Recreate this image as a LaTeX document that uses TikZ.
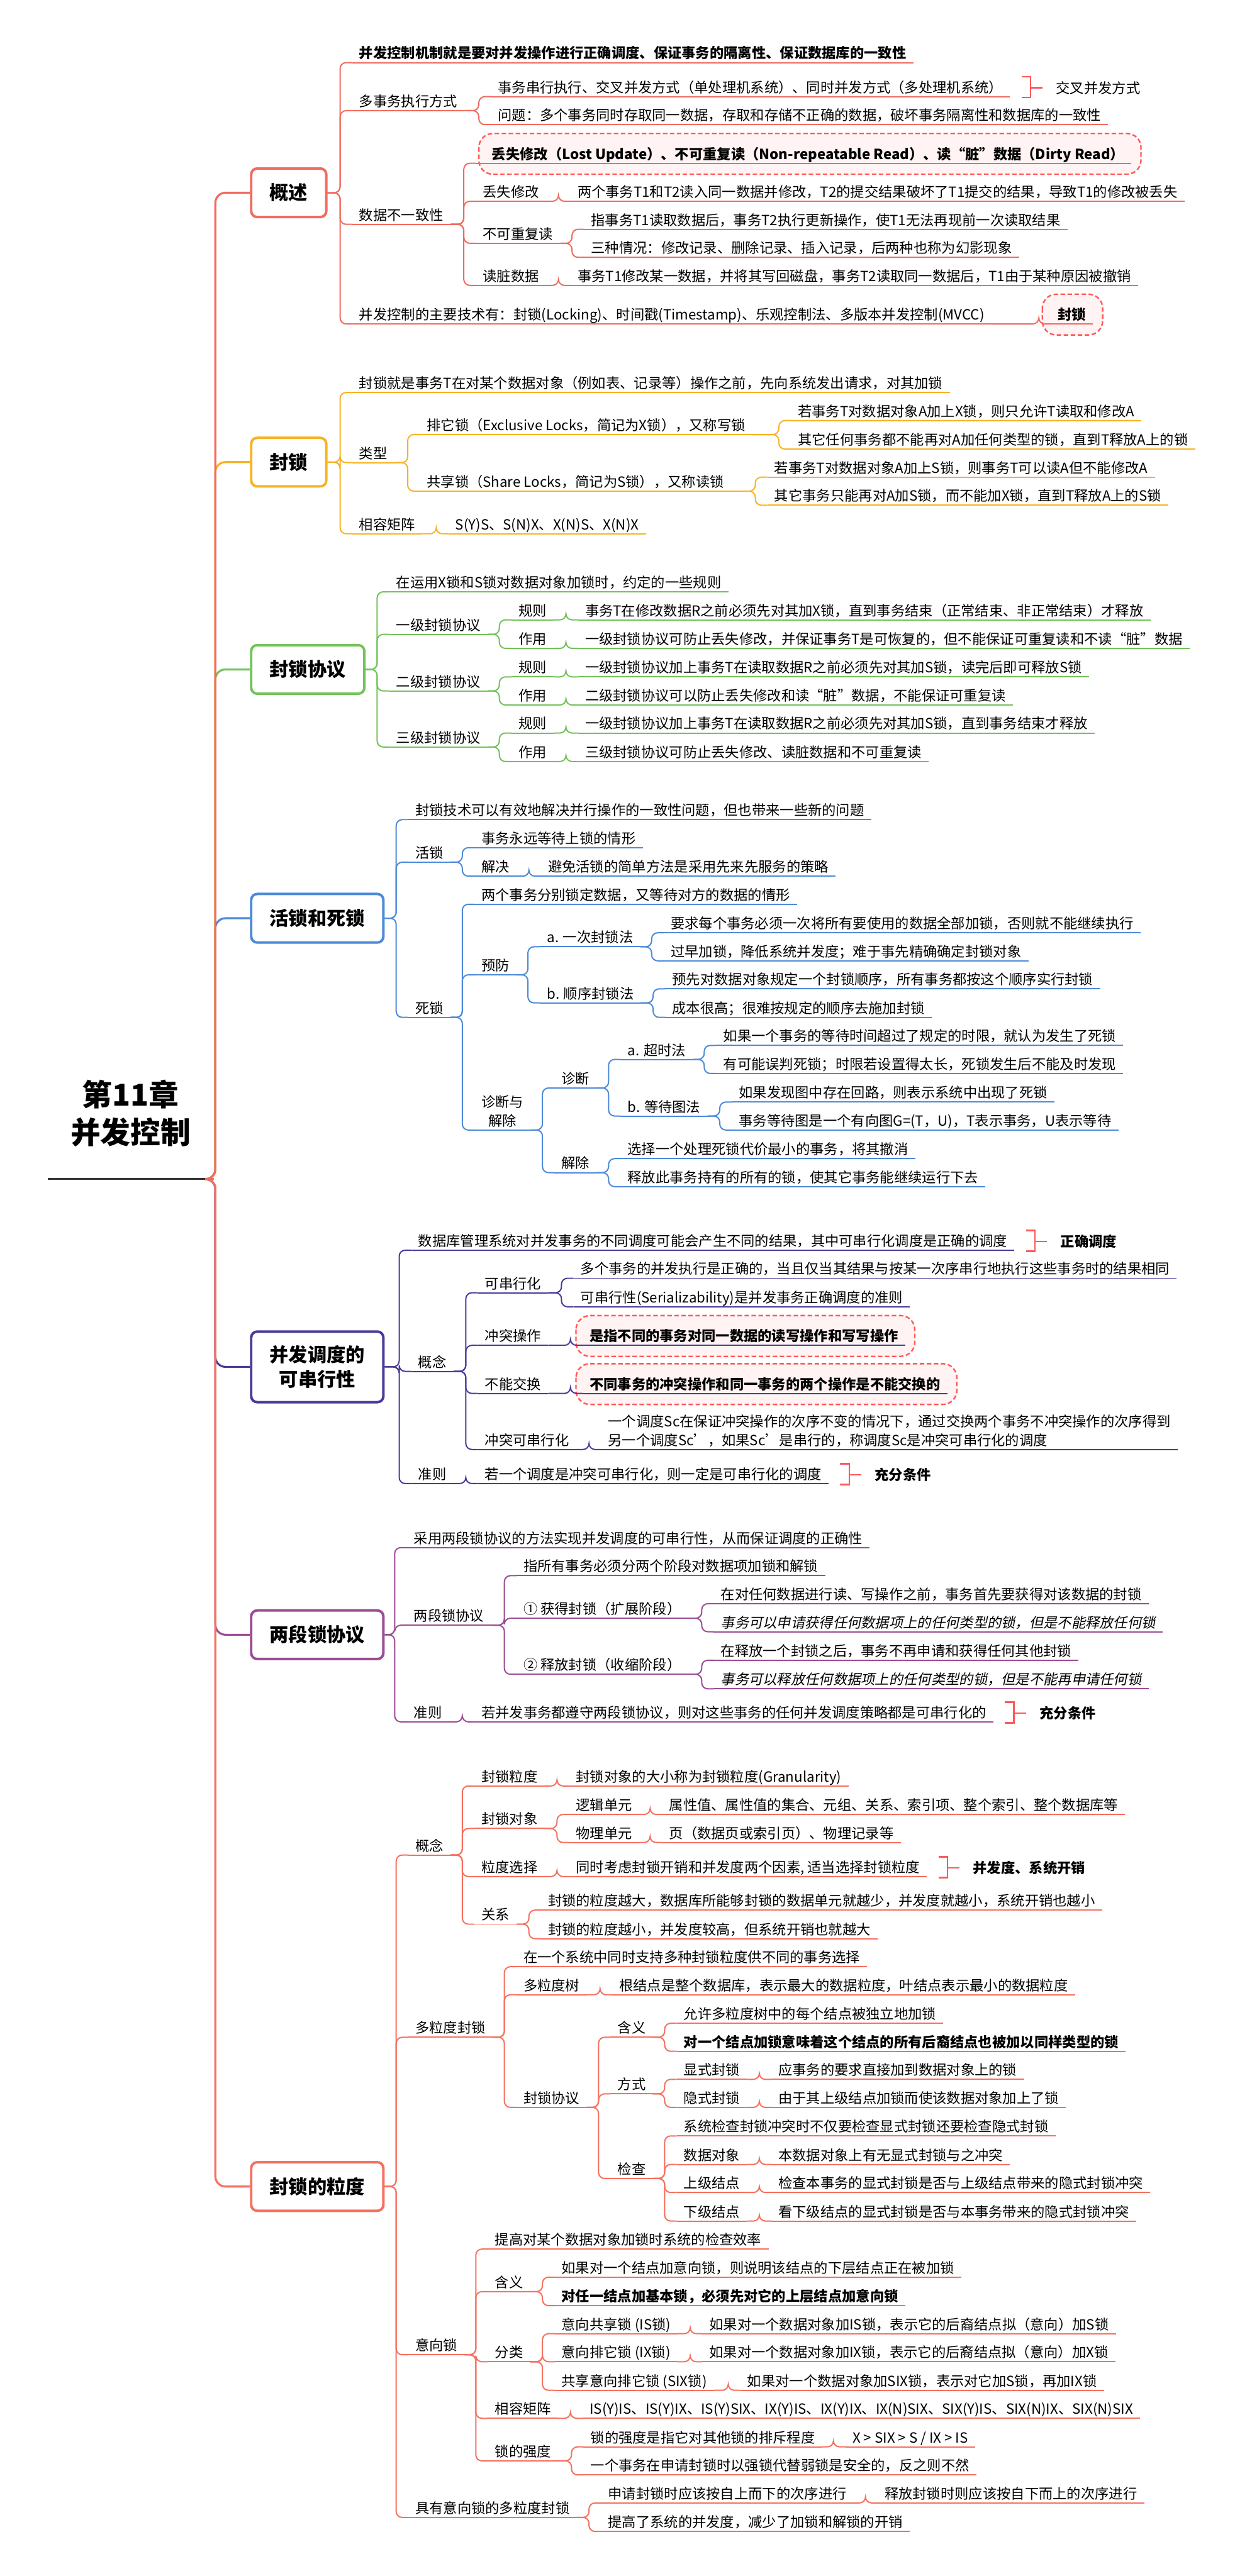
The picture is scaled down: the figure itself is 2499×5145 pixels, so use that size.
\documentclass[tikz,border=0pt]{standalone}
\usepackage{fontspec}
\setmainfont{Noto Sans CJK SC}[AutoFakeSlant=0.2]
\usetikzlibrary{backgrounds}
\newcommand\fs{\fontsize{28}{37}\selectfont}
\definecolor{c1}{HTML}{F26B5F}
\definecolor{c2}{HTML}{F8B322}
\definecolor{c3}{HTML}{73C25A}
\definecolor{c4}{HTML}{4D8AD9}
\definecolor{c5}{HTML}{4A3B9A}
\definecolor{c6}{HTML}{9B4C95}
\definecolor{c7}{HTML}{F6705F}
\definecolor{cr}{HTML}{FF5959}
\definecolor{cf}{HTML}{FFF3F3}
\colorlet{bc}{c1}
\newcommand\tn[5][]{\node[tp,#1] (#2) at ({#3-14},#4) {#5};}
\newcommand\cn[2]{\draw[cl] (#1.south east) -| ([xshift=-24pt]#2.south west) -- (#2.south west);}
\newcommand\bcn[2]{\draw[cl] (#1.east) -| ([xshift=-24pt]#2.south west) -- (#2.south west);}
\newcommand\summ[4][]{%
  \draw[brk] ([shift={(23,-4)}]#2.north east) -- ([shift={(41,-4)}]#2.north east) -- ([shift={(41,2)}]#2.south east) -- ([shift={(23,2)}]#2.south east);
  \draw[brk] ([xshift=41pt]#2.east) -- ([xshift=65pt]#2.east);
  \node[sl,#1] (#3) at ([xshift=92pt]#2.east) {#4};}
\newcommand\callout[2][-13]{\begin{scope}[on background layer]\draw[co] ([shift={(#1,-24)}]#2.north west) rectangle ([shift={(19,22)}]#2.south east);\end{scope}}
\begin{document}
\begin{tikzpicture}[x=1pt,y=-1pt,
  ul/.style={draw=bc, line width=2.5pt},
  tpb/.style={anchor=south west, inner xsep=14pt, inner ysep=0pt, text depth=8pt, font=\fs,
     append after command={(\tikzlastnode.south west) edge[ul] (\tikzlastnode.south east)}},
  tp/.style={tpb, text height=27pt},
  cl/.style={draw=bc, line width=2.5pt, rounded corners=12pt},
  mcl/.style={line width=4pt, rounded corners=20pt},
  box/.style={draw=bc, line width=5pt, rounded corners=12pt, fill=white, anchor=west,
     minimum height=97pt, inner xsep=37pt, font=\bfseries\fontsize{38}{50}\selectfont, align=center},
  brk/.style={draw=cr, line width=3pt},
  sl/.style={anchor=west, inner sep=0pt, font=\fs},
  co/.style={draw=cr, dashed, dash pattern=on 9pt off 5pt, line width=3pt, fill=cf, rounded corners=28pt},
  rootn/.style={anchor=south west, minimum width=331pt, inner ysep=14pt, text depth=56pt, align=center,
     font=\bfseries\fontsize{60}{76}\selectfont}]
\useasboundingbox (0,0) rectangle (2499,5145);
\begin{scope}[on background layer]
\fill[white] (0,0) rectangle (2499,5145);
\end{scope}

% ---------------- root
\node[rootn] (root) at (95,2355) {第11章\\并发控制};
\draw[line width=4pt, draw=black!80] (root.south west) -- (root.south east);

% ---------------- boxes
\begin{scope}\colorlet{bc}{c1}\node[box] (b1) at (499,385) {概述};\end{scope}
\begin{scope}\colorlet{bc}{c2}\node[box] (b2) at (499,923) {封锁};\end{scope}
\begin{scope}\colorlet{bc}{c3}\node[box] (b3) at (499,1337) {封锁协议};\end{scope}
\begin{scope}\colorlet{bc}{c4}\node[box] (b4) at (499,1834) {活锁和死锁};\end{scope}
\begin{scope}\colorlet{bc}{c5}\node[box, minimum height=141pt] (b5) at (499,2730) {并发调度的\\可串行性};\end{scope}
\begin{scope}\colorlet{bc}{c6}\node[box] (b6) at (499,3265) {两段锁协议};\end{scope}
\begin{scope}\colorlet{bc}{c7}\node[box] (b7) at (499,4367) {封锁的粒度};\end{scope}

% root connectors (outermost drawn last)
\draw[mcl, draw=c4] (root.south east) -| ([xshift=-69pt]b4.west) -- (b4.west);
\draw[mcl, draw=c5] (root.south east) -| ([xshift=-69pt]b5.west) -- (b5.west);
\draw[mcl, draw=c3] (root.south east) -| ([xshift=-69pt]b3.west) -- (b3.west);
\draw[mcl, draw=c6] (root.south east) -| ([xshift=-69pt]b6.west) -- (b6.west);
\draw[mcl, draw=c2] (root.south east) -| ([xshift=-69pt]b2.west) -- (b2.west);
\draw[mcl, draw=c7] (root.south east) -| ([xshift=-69pt]b7.west) -- (b7.west);
\draw[mcl, draw=c1] (root.south east) -| ([xshift=-69pt]b1.west) -- (b1.west);

% ---------------- section 1
\begin{scope}
\colorlet{bc}{c1}
\tn[font=\fs\bfseries]{n11}{717}{125}{并发控制机制就是要对并发操作进行正确调度、保证事务的隔离性、保证数据库的一致性}
\tn{n12}{717}{221}{多事务执行方式}
\tn{n121}{994}{193}{事务串行执行、交叉并发方式（单处理机系统）、同时并发方式（多处理机系统）}
\tn{n122}{994}{249}{问题：多个事务同时存取同一数据，存取和存储不正确的数据，破坏事务隔离性和数据库的一致性}
\tn{n13}{717}{448}{数据不一致性}
\tn[font=\fs\bfseries]{n131}{964}{326}{\hspace*{18pt}丢失修改（Lost Update）、不可重复读（Non-repeatable Read）、读“脏”数据（Dirty Read）}
\tn{n132}{964}{402}{丢失修改}
\tn{n1321}{1153}{402}{两个事务T1和T2读入同一数据并修改，T2的提交结果破坏了T1提交的结果，导致T1的修改被丢失}
\tn{n133}{964}{486}{不可重复读}
\tn{n1331}{1180}{458}{指事务T1读取数据后，事务T2执行更新操作，使T1无法再现前一次读取结果}
\tn{n1332}{1180}{514}{三种情况：修改记录、删除记录、插入记录，后两种也称为幻影现象}
\tn{n134}{964}{570}{读脏数据}
\tn{n1341}{1153}{570}{事务T1修改某一数据，并将其写回磁盘，事务T2读取同一数据后，T1由于某种原因被撤销}
\tn{n14}{717}{647}{并发控制的主要技术有：封锁(Locking)、时间戳(Timestamp)、乐观控制法、多版本并发控制(MVCC)}
\tn[font=\fs\bfseries]{n141}{2112}{647}{封锁}
\bcn{b1}{n11}\bcn{b1}{n12}\bcn{b1}{n13}\bcn{b1}{n14}
\cn{n12}{n121}\cn{n12}{n122}
\cn{n13}{n131}\cn{n13}{n132}\cn{n13}{n133}\cn{n13}{n134}
\cn{n132}{n1321}\cn{n133}{n1331}\cn{n133}{n1332}\cn{n134}{n1341}
\cn{n14}{n141}
\summ{n121}{s1}{交叉并发方式}
\callout[6]{n131}
\callout[-17]{n141}
\end{scope}

% ---------------- section 2
\begin{scope}
\colorlet{bc}{c2}
\tn{n21}{717}{784}{封锁就是事务T在对某个数据对象（例如表、记录等）操作之前，先向系统发出请求，对其加锁}
\tn{n22}{717}{924}{类型}
\tn{n221}{852}{868}{排它锁（Exclusive Locks，简记为X锁），又称写锁}
\tn{n2211}{1593}{840}{若事务T对数据对象A加上X锁，则只允许T读取和修改A}
\tn{n2212}{1593}{897}{其它任何事务都不能再对A加任何类型的锁，直到T释放A上的锁}
\tn{n222}{852}{981}{共享锁（Share Locks，简记为S锁），又称读锁}
\tn{n2221}{1546}{953}{若事务T对数据对象A加上S锁，则事务T可以读A但不能修改A}
\tn{n2222}{1546}{1009}{其它事务只能再对A加S锁，而不能加X锁，直到T释放A上的S锁}
\tn{n23}{717}{1066}{相容矩阵}
\tn{n231}{909}{1066}{S(Y)S、S(N)X、X(N)S、X(N)X}
\bcn{b2}{n21}\bcn{b2}{n22}\bcn{b2}{n23}
\cn{n22}{n221}\cn{n22}{n222}
\cn{n221}{n2211}\cn{n221}{n2212}\cn{n222}{n2221}\cn{n222}{n2222}
\cn{n23}{n231}
\end{scope}

% ---------------- section 3
\begin{scope}
\colorlet{bc}{c3}
\tn{n31}{791}{1182}{在运用X锁和S锁对数据对象加锁时，约定的一些规则}
\tn{n32}{791}{1267}{一级封锁协议}
\tn{n321}{1035}{1238}{规则}
\tn{n3211}{1168}{1238}{事务T在修改数据R之前必须先对其加X锁，直到事务结束（正常结束、非正常结束）才释放}
\tn{n322}{1035}{1295}{作用}
\tn{n3221}{1168}{1295}{一级封锁协议可防止丢失修改，并保证事务T是可恢复的，但不能保证可重复读和不读“脏”数据}
\tn{n33}{791}{1380}{二级封锁协议}
\tn{n331}{1035}{1352}{规则}
\tn{n3311}{1168}{1352}{一级封锁协议加上事务T在读取数据R之前必须先对其加S锁，读完后即可释放S锁}
\tn{n332}{1035}{1408}{作用}
\tn{n3321}{1168}{1408}{二级封锁协议可以防止丢失修改和读“脏”数据，不能保证可重复读}
\tn{n34}{791}{1492}{三级封锁协议}
\tn{n341}{1035}{1464}{规则}
\tn{n3411}{1168}{1464}{一级封锁协议加上事务T在读取数据R之前必须先对其加S锁，直到事务结束才释放}
\tn{n342}{1035}{1521}{作用}
\tn{n3421}{1168}{1521}{三级封锁协议可防止丢失修改、读脏数据和不可重复读}
\bcn{b3}{n31}\bcn{b3}{n32}\bcn{b3}{n33}\bcn{b3}{n34}
\cn{n32}{n321}\cn{n32}{n322}\cn{n33}{n331}\cn{n33}{n332}\cn{n34}{n341}\cn{n34}{n342}
\cn{n321}{n3211}\cn{n322}{n3221}\cn{n331}{n3311}\cn{n332}{n3321}\cn{n341}{n3411}\cn{n342}{n3421}
\end{scope}

% ---------------- section 4
\begin{scope}
\colorlet{bc}{c4}
\tn{n41}{829}{1637}{封锁技术可以有效地解决并行操作的一致性问题，但也带来一些新的问题}
\tn{n42}{829}{1722}{活锁}
\tn{n421}{961}{1693}{事务永远等待上锁的情形}
\tn{n422}{961}{1750}{解决}
\tn{n4221}{1094}{1750}{避免活锁的简单方法是采用先来先服务的策略}
\tn{n43}{829}{2032}{死锁}
\tn{n431}{961}{1806}{两个事务分别锁定数据，又等待对方的数据的情形}
\tn{n432}{961}{1947}{预防}
\tn{n4321}{1092}{1891}{a. 一次封锁法}
\tn{n43211}{1339}{1863}{要求每个事务必须一次将所有要使用的数据全部加锁，否则就不能继续执行}
\tn{n43212}{1339}{1919}{过早加锁，降低系统并发度；难于事先精确确定封锁对象}
\tn{n4322}{1092}{2003}{b. 顺序封锁法}
\tn{n43221}{1342}{1975}{预先对数据对象规定一个封锁顺序，所有事务都按这个顺序实行封锁}
\tn{n43222}{1342}{2032}{成本很高；很难按规定的顺序去施加封锁}
\node[tpb, align=center] (n433) at (947,2257) {诊断与\\解除};
\tn{n4331}{1121}{2173}{诊断}
\tn{n43311}{1253}{2116}{a. 超时法}
\tn{n433111}{1444}{2088}{如果一个事务的等待时间超过了规定的时限，就认为发生了死锁}
\tn{n433112}{1444}{2144}{有可能误判死锁；时限若设置得太长，死锁发生后不能及时发现}
\tn{n43312}{1253}{2229}{b. 等待图法}
\tn{n433121}{1475}{2201}{如果发现图中存在回路，则表示系统中出现了死锁}
\tn{n433122}{1475}{2257}{事务等待图是一个有向图G=(T，U)，T表示事务，U表示等待}
\tn{n4332}{1121}{2342}{解除}
\tn{n43321}{1253}{2314}{选择一个处理死锁代价最小的事务，将其撤消}
\tn{n43322}{1253}{2370}{释放此事务持有的所有的锁，使其它事务能继续运行下去}
\bcn{b4}{n41}\bcn{b4}{n42}\bcn{b4}{n43}
\cn{n42}{n421}\cn{n42}{n422}\cn{n422}{n4221}
\cn{n43}{n431}\cn{n43}{n432}\cn{n43}{n433}
\cn{n432}{n4321}\cn{n432}{n4322}
\cn{n4321}{n43211}\cn{n4321}{n43212}\cn{n4322}{n43221}\cn{n4322}{n43222}
\cn{n433}{n4331}\cn{n433}{n4332}
\cn{n4331}{n43311}\cn{n4331}{n43312}
\cn{n43311}{n433111}\cn{n43311}{n433112}\cn{n43312}{n433121}\cn{n43312}{n433122}
\cn{n4332}{n43321}\cn{n4332}{n43322}
\end{scope}

% ---------------- section 5
\begin{scope}
\colorlet{bc}{c5}
\tn{n51}{835}{2497}{数据库管理系统对并发事务的不同调度可能会产生不同的结果，其中可串行化调度是正确的调度}
\tn{n52}{835}{2739}{概念}
\tn{n521}{968}{2582}{可串行化}
\tn{n5211}{1159}{2553}{多个事务的并发执行是正确的，当且仅当其结果与按某一次序串行地执行这些事务时的结果相同}
\tn{n5212}{1159}{2610}{可串行性(Serializability)是并发事务正确调度的准则}
\tn{n522}{968}{2687}{冲突操作}
\tn[font=\fs\bfseries]{n5221}{1177}{2687}{是指不同的事务对同一数据的读写操作和写写操作}
\tn{n523}{968}{2783}{不能交换}
\tn[font=\fs\bfseries]{n5231}{1177}{2783}{不同事务的冲突操作和同一事务的两个操作是不能交换的}
\tn{n524}{968}{2895}{冲突可串行化}
\node[tpb, align=left] (n5241) at (1200,2895) {一个调度Sc在保证冲突操作的次序不变的情况下，通过交换两个事务不冲突操作的次序得到\\另一个调度Sc'，如果Sc'是串行的，称调度Sc是冲突可串行化的调度};
\tn{n53}{835}{2963}{准则}
\tn{n531}{968}{2963}{若一个调度是冲突可串行化，则一定是可串行化的调度}
\bcn{b5}{n51}\bcn{b5}{n52}\bcn{b5}{n53}
\cn{n52}{n521}\cn{n52}{n522}\cn{n52}{n523}\cn{n52}{n524}
\cn{n521}{n5211}\cn{n521}{n5212}\cn{n522}{n5221}\cn{n523}{n5231}\cn{n524}{n5241}
\cn{n53}{n531}
\summ[font=\fs\bfseries]{n51}{s51}{正确调度}
\summ[font=\fs\bfseries]{n531}{s52}{充分条件}
\callout{n5221}
\callout{n5231}
\end{scope}

% ---------------- section 6
\begin{scope}
\colorlet{bc}{c6}
\tn{n61}{826}{3091}{采用两段锁协议的方法实现并发调度的可串行性，从而保证调度的正确性}
\tn{n62}{826}{3246}{两段锁协议}
\tn{n621}{1045}{3147}{指所有事务必须分两个阶段对数据项加锁和解锁}
\tn{n622}{1045}{3232}{① 获得封锁（扩展阶段）}
\tn{n6221}{1439}{3203}{在对任何数据进行读、写操作之前，事务首先要获得对该数据的封锁}
\tn[font=\fs\itshape]{n6222}{1439}{3259}{事务可以申请获得任何数据项上的任何类型的锁，但是不能释放任何锁}
\tn{n623}{1045}{3344}{② 释放封锁（收缩阶段）}
\tn{n6231}{1439}{3316}{在释放一个封锁之后，事务不再申请和获得任何其他封锁}
\tn[font=\fs\itshape]{n6232}{1439}{3373}{事务可以释放任何数据项上的任何类型的锁，但是不能再申请任何锁}
\tn{n63}{826}{3439}{准则}
\tn{n631}{961}{3439}{若并发事务都遵守两段锁协议，则对这些事务的任何并发调度策略都是可串行化的}
\bcn{b6}{n61}\bcn{b6}{n62}\bcn{b6}{n63}
\cn{n62}{n621}\cn{n62}{n622}\cn{n62}{n623}
\cn{n622}{n6221}\cn{n622}{n6222}\cn{n623}{n6231}\cn{n623}{n6232}
\cn{n63}{n631}
\summ[font=\fs\bfseries]{n631}{s6}{充分条件}
\end{scope}

% ---------------- section 7
\begin{scope}
\colorlet{bc}{c7}
\tn{n71}{829}{3705}{概念}
\tn{n711}{961}{3567}{封锁粒度}
\tn{n7111}{1150}{3567}{封锁对象的大小称为封锁粒度(Granularity)}
\tn{n712}{961}{3652}{封锁对象}
\tn{n7121}{1150}{3624}{逻辑单元}
\tn{n71211}{1336}{3624}{属性值、属性值的集合、元组、关系、索引项、整个索引、整个数据库等}
\tn{n7122}{1150}{3680}{物理单元}
\tn{n71221}{1336}{3680}{页（数据页或索引页）、物理记录等}
\tn{n713}{961}{3748}{粒度选择}
\tn{n7131}{1150}{3748}{同时考虑封锁开销和并发度两个因素, 适当选择封锁粒度}
\tn{n714}{961}{3843}{关系}
\tn{n7141}{1094}{3815}{封锁的粒度越大，数据库所能够封锁的数据单元就越少，并发度就越小，系统开销也越小}
\tn{n7142}{1094}{3872}{封锁的粒度越小，并发度较高，但系统开销也就越大}
\tn{n72}{829}{4069}{多粒度封锁}
\tn{n721}{1045}{3928}{在一个系统中同时支持多种封锁粒度供不同的事务选择}
\tn{n722}{1045}{3984}{多粒度树}
\tn{n7221}{1236}{3984}{根结点是整个数据库，表示最大的数据粒度，叶结点表示最小的数据粒度}
\tn{n723}{1045}{4209}{封锁协议}
\tn{n7231}{1233}{4069}{含义}
\tn{n72311}{1365}{4041}{允许多粒度树中的每个结点被独立地加锁}
\tn[font=\fs\bfseries]{n72312}{1365}{4097}{对一个结点加锁意味着这个结点的所有后裔结点也被加以同样类型的锁}
\tn{n7232}{1233}{4182}{方式}
\tn{n72321}{1365}{4153}{显式封锁}
\tn{n723211}{1554}{4153}{应事务的要求直接加到数据对象上的锁}
\tn{n72322}{1365}{4209}{隐式封锁}
\tn{n723221}{1554}{4209}{由于其上级结点加锁而使该数据对象加上了锁}
\tn{n7233}{1233}{4351}{检查}
\tn{n72331}{1365}{4266}{系统检查封锁冲突时不仅要检查显式封锁还要检查隐式封锁}
\tn{n72332}{1365}{4323}{数据对象}
\tn{n723321}{1554}{4323}{本数据对象上有无显式封锁与之冲突}
\tn{n72333}{1365}{4379}{上级结点}
\tn{n723331}{1554}{4379}{检查本事务的显式封锁是否与上级结点带来的隐式封锁冲突}
\tn{n72334}{1365}{4436}{下级结点}
\tn{n723341}{1554}{4436}{看下级结点的显式封锁是否与本事务带来的隐式封锁冲突}
\tn{n73}{829}{4703}{意向锁}
\tn{n731}{988}{4492}{提高对某个数据对象加锁时系统的检查效率}
\tn{n732}{988}{4577}{含义}
\tn{n7321}{1121}{4548}{如果对一个结点加意向锁，则说明该结点的下层结点正在被加锁}
\tn[font=\fs\bfseries]{n7322}{1121}{4605}{对任一结点加基本锁，必须先对它的上层结点加意向锁}
\tn{n733}{988}{4717}{分类}
\tn{n7331}{1121}{4661}{意向共享锁 (IS锁)}
\tn{n73311}{1416}{4661}{如果对一个数据对象加IS锁，表示它的后裔结点拟（意向）加S锁}
\tn{n7332}{1121}{4717}{意向排它锁 (IX锁)}
\tn{n73321}{1416}{4717}{如果对一个数据对象加IX锁，表示它的后裔结点拟（意向）加X锁}
\tn{n7333}{1121}{4774}{共享意向排它锁 (SIX锁)}
\tn{n73331}{1492}{4774}{如果对一个数据对象加SIX锁，表示对它加S锁，再加IX锁}
\tn{n734}{988}{4830}{相容矩阵}
\tn{n7341}{1177}{4830}{IS(Y)IS、IS(Y)IX、IS(Y)SIX、IX(Y)IS、IX(Y)IX、IX(N)SIX、SIX(Y)IS、SIX(N)IX、SIX(N)SIX}
\tn{n735}{988}{4915}{锁的强度}
\tn{n7351}{1179}{4887}{锁的强度是指它对其他锁的排斥程度}
\tn{n73511}{1702}{4887}{X > SIX > S / IX > IS}
\tn{n7352}{1179}{4943}{一个事务在申请封锁时以强锁代替弱锁是安全的，反之则不然}
\tn{n74}{829}{5028}{具有意向锁的多粒度封锁}
\tn{n741}{1214}{4999}{申请封锁时应该按自上而下的次序进行}
\tn{n7411}{1766}{4999}{释放封锁时则应该按自下而上的次序进行}
\tn{n742}{1214}{5056}{提高了系统的并发度，减少了加锁和解锁的开销}
\bcn{b7}{n71}\bcn{b7}{n72}\bcn{b7}{n73}\bcn{b7}{n74}
\cn{n71}{n711}\cn{n71}{n712}\cn{n71}{n713}\cn{n71}{n714}
\cn{n711}{n7111}\cn{n712}{n7121}\cn{n712}{n7122}\cn{n7121}{n71211}\cn{n7122}{n71221}
\cn{n713}{n7131}\cn{n714}{n7141}\cn{n714}{n7142}
\cn{n72}{n721}\cn{n72}{n722}\cn{n72}{n723}\cn{n722}{n7221}
\cn{n723}{n7231}\cn{n723}{n7232}\cn{n723}{n7233}
\cn{n7231}{n72311}\cn{n7231}{n72312}
\cn{n7232}{n72321}\cn{n7232}{n72322}\cn{n72321}{n723211}\cn{n72322}{n723221}
\cn{n7233}{n72331}\cn{n7233}{n72332}\cn{n7233}{n72333}\cn{n7233}{n72334}
\cn{n72332}{n723321}\cn{n72333}{n723331}\cn{n72334}{n723341}
\cn{n73}{n731}\cn{n73}{n732}\cn{n73}{n733}\cn{n73}{n734}\cn{n73}{n735}
\cn{n732}{n7321}\cn{n732}{n7322}
\cn{n733}{n7331}\cn{n733}{n7332}\cn{n733}{n7333}
\cn{n7331}{n73311}\cn{n7332}{n73321}\cn{n7333}{n73331}
\cn{n734}{n7341}
\cn{n735}{n7351}\cn{n735}{n7352}\cn{n7351}{n73511}
\cn{n74}{n741}\cn{n74}{n742}\cn{n741}{n7411}
\summ[font=\fs\bfseries]{n7131}{s7}{并发度、系统开销}
\end{scope}
\end{tikzpicture}
\end{document}
